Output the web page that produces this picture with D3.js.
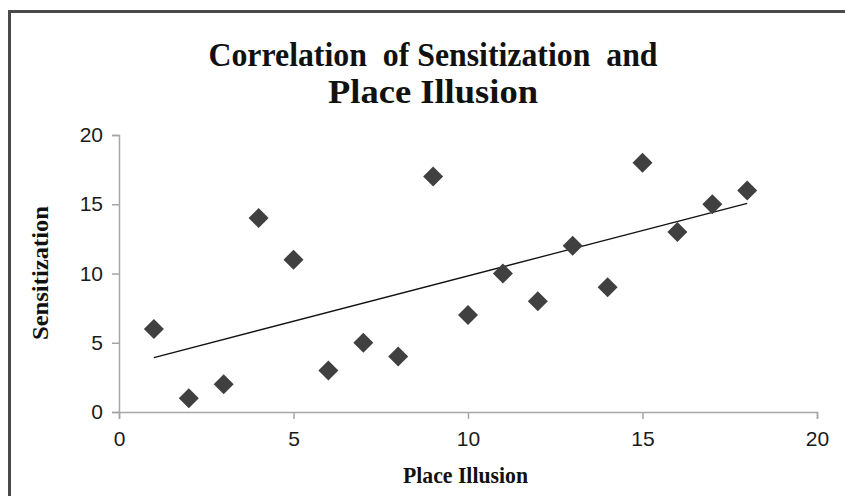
<!DOCTYPE html>
<html>
<head>
<meta charset="utf-8">
<script src="https://cdn.jsdelivr.net/npm/d3@7"></script>
<style>
  body { margin: 0; background: #fff; }
  .axis path, .axis line { stroke: #a6a6a6; stroke-width: 1.5; }
  .axis text { font-family: "Liberation Sans", Arial, sans-serif; font-size: 21px; fill: #1a1a1a; }
  .serif { font-family: "Liberation Serif", "Times New Roman", serif; font-weight: bold; fill: #111; white-space: pre; }
</style>
</head>
<body>
<div id="main"></div>
<script>
'use strict'

// Data
const placeIllusion = [1, 2, 3, 4, 5, 6, 7, 8, 9, 10, 11, 12, 13, 14, 15, 16, 17, 18];
const sensitization = [6, 1, 2, 14, 11, 3, 5, 4, 17, 7, 10, 8, 12, 9, 18, 13, 15, 16];
const xTicks = [0, 5, 10, 15, 20];
const yTicks = [0, 5, 10, 15, 20];
const titleLines = ["Correlation  of Sensitization  and", "Place Illusion"];

document.addEventListener('DOMContentLoaded', function(){
  drawScatterPlot();
});

function drawScatterPlot(){
  let svgWidth = 845;
  let svgHeight = 496;
  let margin = {left: 119, right: 28, top: 135, bottom: 84};

  let svg = d3.select('#main')
    .append('svg')
    .attr('width', svgWidth)
    .attr('height', svgHeight);

  //Frame round the chart
  svg.append("path")
    .attr("d", "M9.5," + svgHeight + " V11.5 H" + svgWidth)
    .attr("fill", "none")
    .attr("stroke", "#4a4a4a")
    .attr("stroke-width", 3);

  let xScale = d3.scaleLinear()
    .domain([0, 20])
    .range([margin.left, svgWidth - margin.right]);
  let yScale = d3.scaleLinear()
    .domain([0, 20])
    .range([svgHeight - margin.bottom, margin.top]);

  //Axes
  svg.append("g")
    .attr("class", "axis")
    .attr("transform", "translate(0," + yScale(0) + ")")
    .call(d3.axisBottom(xScale).tickValues(xTicks).tickSize(7).tickSizeOuter(7).tickPadding(12));
  svg.append("g")
    .attr("class", "axis")
    .attr("transform", "translate(" + xScale(0) + ",0)")
    .call(d3.axisLeft(yScale).tickValues(yTicks).tickSize(7).tickSizeOuter(7).tickPadding(9));

  //Trendline (least squares fit of the points)
  let pts = placeIllusion.map((x, i) => [x, sensitization[i]]);
  let mx = d3.mean(placeIllusion), my = d3.mean(sensitization);
  let slope = d3.sum(pts, p => (p[0] - mx) * (p[1] - my)) / d3.sum(pts, p => (p[0] - mx) * (p[0] - mx));
  let x0 = d3.min(placeIllusion), x1 = d3.max(placeIllusion);
  svg.append("line")
    .attr("x1", xScale(x0))
    .attr("y1", yScale(my + slope * (x0 - mx)))
    .attr("x2", xScale(x1))
    .attr("y2", yScale(my + slope * (x1 - mx)))
    .attr("stroke", "#111")
    .attr("stroke-width", 1.3);

  //Diamond markers
  let r = 10;
  svg.selectAll("path.dot")
    .data(pts)
    .enter()
    .append("path")
    .attr("class", "dot")
    .attr("d", "M0," + (-r) + " L" + r + ",0 L0," + r + " L" + (-r) + ",0 Z")
    .attr("transform", d => "translate(" + xScale(d[0]) + "," + yScale(d[1]) + ")")
    .attr("fill", "#404040");

  //Title
  let titleWidths = [449, 210];
  svg.append("g").selectAll("text")
    .data(titleLines)
    .enter()
    .append("text")
    .attr("class", "serif")
    .attr("x", (d, i) => 433 - titleWidths[i] / 2)
    .attr("y", (d, i) => 66 + i * 37)
    .attr("textLength", (d, i) => titleWidths[i])
    .attr("lengthAdjust", "spacingAndGlyphs")
    .style("font-size", "33px")
    .text(d => d);

  //Axis titles
  svg.append("text")
    .attr("class", "serif")
    .attr("x", 403)
    .attr("y", 483)
    .attr("textLength", 125)
    .attr("lengthAdjust", "spacingAndGlyphs")
    .style("font-size", "24px")
    .text("Place Illusion");
  svg.append("text")
    .attr("class", "serif")
    .attr("transform", "translate(48,340) rotate(-90)")
    .attr("textLength", 134)
    .attr("lengthAdjust", "spacingAndGlyphs")
    .style("font-size", "23px")
    .text("Sensitization");
}
</script>
</body>
</html>
